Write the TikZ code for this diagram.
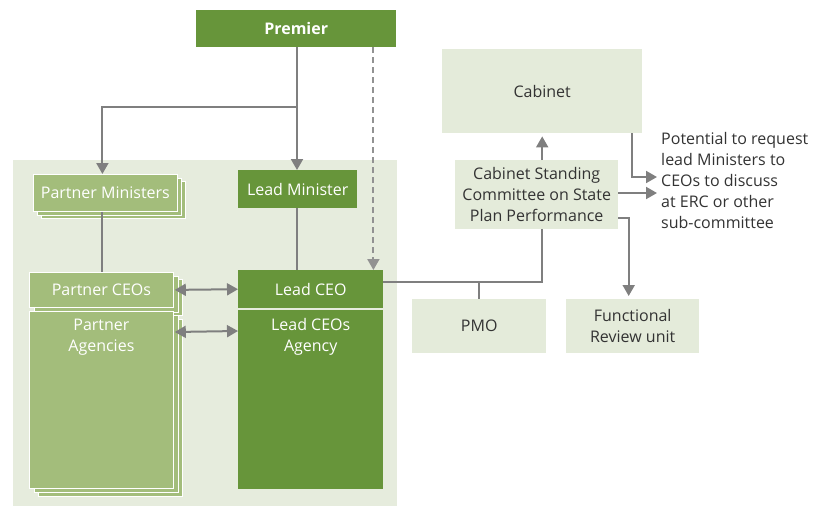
\documentclass[tikz,border=0pt]{standalone}
\usepackage{fontspec}
\setmainfont{Open Sans}
\usetikzlibrary{arrows.meta}

\definecolor{darkgreen}{HTML}{67953A}
\definecolor{lightgreen}{HTML}{A3BD7B}
\definecolor{panelgreen}{HTML}{E6ECDD}
\definecolor{paleboxgreen}{HTML}{E4EBDA}
\definecolor{linegray}{HTML}{7F7F7F}
\definecolor{textgray}{HTML}{333333}

\begin{document}
\begin{tikzpicture}[x=1pt,y=-1pt,
  every node/.style={font=\fontsize{16}{21}\selectfont},
  boxbase/.style={rectangle, inner sep=0pt, anchor=north west, align=center},
  darkbox/.style={boxbase, fill=darkgreen, text=white},
  lightbox/.style={boxbase, fill=lightgreen, text=white, draw=white, line width=0.8pt},
  palebox/.style={boxbase, fill=paleboxgreen, text=textgray},
  conn/.style={draw=linegray, line width=2pt},
  tip/.style={Triangle[length=11pt,width=12pt]},
  arr/.style={conn, -{Triangle[length=11pt,width=12pt]}},
  dblarr/.style={conn, {Triangle[length=11pt,width=12pt]}-{Triangle[length=11pt,width=12pt]}},
  dashconn/.style={arr, draw=linegray!85, dash pattern=on 6pt off 4pt},
  toplabel/.style={label={[anchor=north, align=center, text=white, yshift=-5pt]north:#1}}
]
\useasboundingbox (0,0) rectangle (815,506);

% background panel for the portfolio group
\fill[panelgreen] (13,160) rectangle (397,506);

% top level
\node[darkbox, minimum width=200pt, minimum height=37pt, font=\fontsize{16}{21}\selectfont\bfseries] (premier) at (196,10) {Premier};

% partner ministers (stacked)
\node[lightbox, minimum width=144pt, minimum height=37pt] (pminb2) at (41,181) {};
\node[lightbox, minimum width=144pt, minimum height=37pt] (pminb1) at (37,177.5) {};
\node[lightbox, minimum width=144pt, minimum height=37pt] (pmin) at (33,174) {Partner Ministers};

% lead minister
\node[darkbox, minimum width=119pt, minimum height=38pt] (lmin) at (238,170) {Lead Minister};

% partner CEOs and agencies (stacked)
\node[lightbox, minimum width=144pt, minimum height=36pt] (pceob2) at (38,279) {};
\node[lightbox, minimum width=144pt, minimum height=36pt] (pceob1) at (33.5,275.5) {};
\node[lightbox, minimum width=144pt, minimum height=35pt] (pceo) at (29,272) {Partner CEOs};
\node[lightbox, minimum width=144pt, minimum height=177pt] (pagb2) at (38,319) {};
\node[lightbox, minimum width=144pt, minimum height=177pt] (pagb1) at (33.5,315) {};
\node[lightbox, minimum width=144pt, minimum height=177pt, toplabel={Partner\\Agencies}] (pag) at (29,311) {};

% lead CEO and agency
\node[darkbox, minimum width=145pt, minimum height=38pt] (lceo) at (238,270) {Lead CEO};
\node[darkbox, minimum width=145pt, minimum height=179pt, toplabel={Lead CEOs\\Agency}] (lag) at (238,310) {};

% cabinet side
\node[palebox, minimum width=200pt, minimum height=84pt] (cab) at (442,49) {Cabinet};
\node[palebox, minimum width=163pt, minimum height=69pt] (csc) at (455,160) {Cabinet Standing\\Committee on State\\Plan Performance};
\node[palebox, minimum width=134pt, minimum height=54pt] (pmo) at (412,299) {PMO};
\node[palebox, minimum width=133pt, minimum height=54pt] (fru) at (566,299) {Functional\\Review unit};
\node[anchor=north west, align=left, text=textgray, inner sep=0pt] (note) at (661,132) {Potential to request\\lead Ministers to\\CEOs to discuss\\at ERC or other\\sub-committee};

% connectors from the Premier
\coordinate (split) at (297,107);
\draw[conn] (premier.south -| split) -- (split);
\draw[arr] (split) -| ([xshift=-3pt]pmin.north);
\draw[arr] (split) -- (lmin.north -| split);
\draw[dashconn] ([xshift=-10pt]lceo.north east |- premier.south) -- ([xshift=-10pt]lceo.north east);

% ministers to CEOs
\draw[conn] ([xshift=-3pt]pmin.south) -- ([xshift=-3pt]pmin.south |- pceo.north);
\draw[conn] (lmin.south -| split) -- (lceo.north -| split);

% partner links
\draw[dblarr] ([xshift=1pt]pceo.east) -- (lceo.west);
\draw[dblarr] ([xshift=1pt,yshift=-21pt]pag.north east) -- ([yshift=-21pt]lag.north west);

% lead CEO to the committee and PMO
\coordinate (junc) at (pmo.north |- 0,282);
\draw[conn] ([yshift=7pt]lceo.east) -| ([xshift=5.5pt]csc.south);
\draw[conn] (junc) -- (pmo.north);

% committee outputs
\draw[arr, shorten >=3pt] (csc.north -| cab.south) -- (cab.south);
\coordinate (n1) at (657,177);
\coordinate (n2) at (657,193);
\draw[arr] ([xshift=-10pt]cab.south east) |- (n1);
\draw[arr] (csc.east |- n2) -- (n2);
\draw[arr, shorten >=3pt] ([yshift=-23.5pt]csc.east) -| ([xshift=-4pt]fru.north);
\end{tikzpicture}
\end{document}
